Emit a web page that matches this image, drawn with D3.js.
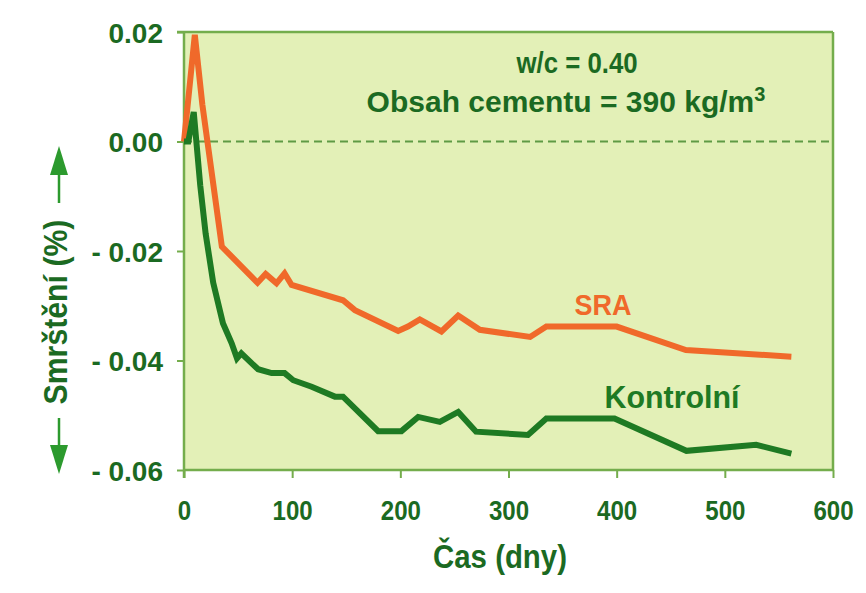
<!DOCTYPE html>
<html><head><meta charset="utf-8">
<script src="https://cdn.jsdelivr.net/npm/d3@7"></script>
<style>
html,body{margin:0;padding:0;background:#fff;}
svg{display:block;}
text{font-family:"Liberation Sans",Arial,Helvetica,sans-serif;font-weight:bold;}
</style></head>
<body>
<script>
// ---- data ----
const sraDays   = [0, 10, 17, 35, 68, 75.5, 85.5, 93, 99.5, 147, 158, 198, 207, 218, 238, 253.5, 273.5, 320, 335, 400, 464, 561.5];
const sraValues = [0.000, 0.0195, 0.0067, -0.0192, -0.0258, -0.0242, -0.0259, -0.0241, -0.0262, -0.0290, -0.0308, -0.0346, -0.0338, -0.0325, -0.0347, -0.0318, -0.0344, -0.0357, -0.0338, -0.0338, -0.0381, -0.0393];
const ctrlDays   = [0, 4, 9, 15, 20, 27, 36, 44, 49, 53, 68.5, 81, 93, 101, 118, 139.5, 147, 179.5, 201, 216.5, 236.5, 253.5, 270, 318, 335, 398, 464.5, 529, 561.5];
const ctrlValues = [0.000, 0.000, 0.0054, -0.008, -0.0168, -0.0258, -0.0332, -0.0368, -0.0396, -0.0387, -0.0416, -0.0423, -0.0423, -0.0436, -0.0448, -0.0466, -0.0466, -0.0529, -0.0529, -0.0503, -0.0512, -0.0494, -0.0530, -0.0536, -0.0506, -0.0506, -0.0565, -0.0554, -0.0570];
const xTicks = [0, 100, 200, 300, 400, 500, 600];
const yTicks = [0.02, 0.00, -0.02, -0.04, -0.06];
const yTickLabels = ["0.02", "0.00", "- 0.02", "- 0.04", "- 0.06"];
const seriesNames = ["SRA", "Kontrolní"];
const xTitle = "Čas (dny)";
const yTitle = "Smrštění (%)";
const noteLine1 = "w/c = 0.40";
const noteLine2 = "Obsah cementu = 390 kg/m";
const noteSup = "3";

// ---- layout ----
const W = 866, H = 593;
const L = 184, R = 833, T = 32, B = 470;
const dark = "#1b6a22", green = "#1e7a23", orange = "#f0692a", frame = "#74ad4c", arrowC = "#2c9a2e";

const svg = d3.select("body").append("svg").attr("width", W).attr("height", H);

const x = d3.scaleLinear().domain([0, 600]).range([L, R]);
const y = d3.scaleLinear().domain([-0.06, 0.02]).range([B, T]);

// helper: horizontally condensed text
function label(px, py, str, size, k, color, anchor) {
  const g = svg.append("g").attr("transform", `translate(${px},${py}) scale(${k},1)`);
  const t = g.append("text").attr("text-anchor", anchor || "middle").attr("fill", color).attr("font-size", size).text(str);
  return t;
}

// plot background
svg.append("rect").attr("x", L).attr("y", T).attr("width", R - L).attr("height", B - T)
  .attr("fill", "#e3f0b7");

// zero dashed line
svg.append("line").attr("x1", L).attr("x2", R).attr("y1", y(0)).attr("y2", y(0))
  .attr("stroke", "#5f9a44").attr("stroke-width", 2).attr("stroke-dasharray", "8,5");

// frame: top and right
svg.append("line").attr("x1", L - 7).attr("x2", R).attr("y1", T).attr("y2", T)
  .attr("stroke", frame).attr("stroke-width", 2.5);
svg.append("line").attr("x1", R).attr("x2", R).attr("y1", T).attr("y2", B)
  .attr("stroke", frame).attr("stroke-width", 2.5);

// axes
const xAxis = d3.axisBottom(x).tickValues(xTicks).tickSize(8).tickPadding(0).tickFormat(d3.format("d"));
const gx = svg.append("g").attr("transform", `translate(0,${B})`).call(xAxis);
gx.select(".domain").attr("stroke", frame).attr("stroke-width", 2.5).attr("d", `M${L},0H${R}`);
gx.selectAll(".tick line").attr("stroke", frame).attr("stroke-width", 2);
gx.selectAll(".tick text").attr("fill", dark).attr("font-size", 28)
  .attr("y", 50).attr("dy", 0).attr("transform", "scale(0.86,1)");

const yAxis = d3.axisLeft(y).tickValues(yTicks).tickSize(7).tickPadding(14)
  .tickFormat((d, i) => yTickLabels[i]);
const gy = svg.append("g").attr("transform", `translate(${L},0)`).call(yAxis);
gy.select(".domain").attr("stroke", frame).attr("stroke-width", 2.5).attr("d", `M0,${T}V${B + 8}`);
gy.selectAll(".tick line").attr("stroke", frame).attr("stroke-width", 2);
gy.selectAll(".tick text").attr("fill", dark).attr("font-size", 28).attr("x", -21).attr("dy", "0.36em");

// lines
const line = d3.line().x(d => x(d[0])).y(d => y(d[1])).curve(d3.curveLinear);
const sraData = sraDays.map((d, i) => [d, sraValues[i]]);
const ctrlData = ctrlDays.map((d, i) => [d, ctrlValues[i]]);
svg.append("path").datum(sraData).attr("d", line).attr("fill", "none")
  .attr("stroke", orange).attr("stroke-width", 6).attr("stroke-linejoin", "miter").attr("stroke-miterlimit", 3);
svg.append("path").datum(ctrlData).attr("d", line).attr("fill", "none")
  .attr("stroke", green).attr("stroke-width", 6).attr("stroke-linejoin", "miter").attr("stroke-miterlimit", 3);

// series labels
label(603, 315, seriesNames[0], 30, 0.9, orange);
label(672, 408, seriesNames[1], 31, 0.98, green);

// annotation
label(577, 73, noteLine1, 30, 0.86, dark);
const n2 = label(566, 112, "", 30, 1.0, dark);
n2.append("tspan").text(noteLine2);
n2.append("tspan").attr("dy", -11).attr("font-size", 20).text(noteSup);

// x title
label(500, 568, xTitle, 34, 0.865, dark);

// y title with arrows
const ax = 59;
svg.append("g").attr("transform", `translate(67,312) rotate(-90) scale(0.89,1)`)
  .append("text").attr("text-anchor", "middle").attr("fill", dark).attr("font-size", 34).text(yTitle);
svg.append("line").attr("x1", ax).attr("x2", ax).attr("y1", 170).attr("y2", 203)
  .attr("stroke", arrowC).attr("stroke-width", 2.5);
svg.append("path").attr("d", `M${ax},146L${ax - 9},175L${ax + 9},175Z`).attr("fill", arrowC);
svg.append("line").attr("x1", ax).attr("x2", ax).attr("y1", 418).attr("y2", 450)
  .attr("stroke", arrowC).attr("stroke-width", 2.5);
svg.append("path").attr("d", `M${ax},474L${ax - 9},445L${ax + 9},445Z`).attr("fill", arrowC);
</script>
</body></html>
